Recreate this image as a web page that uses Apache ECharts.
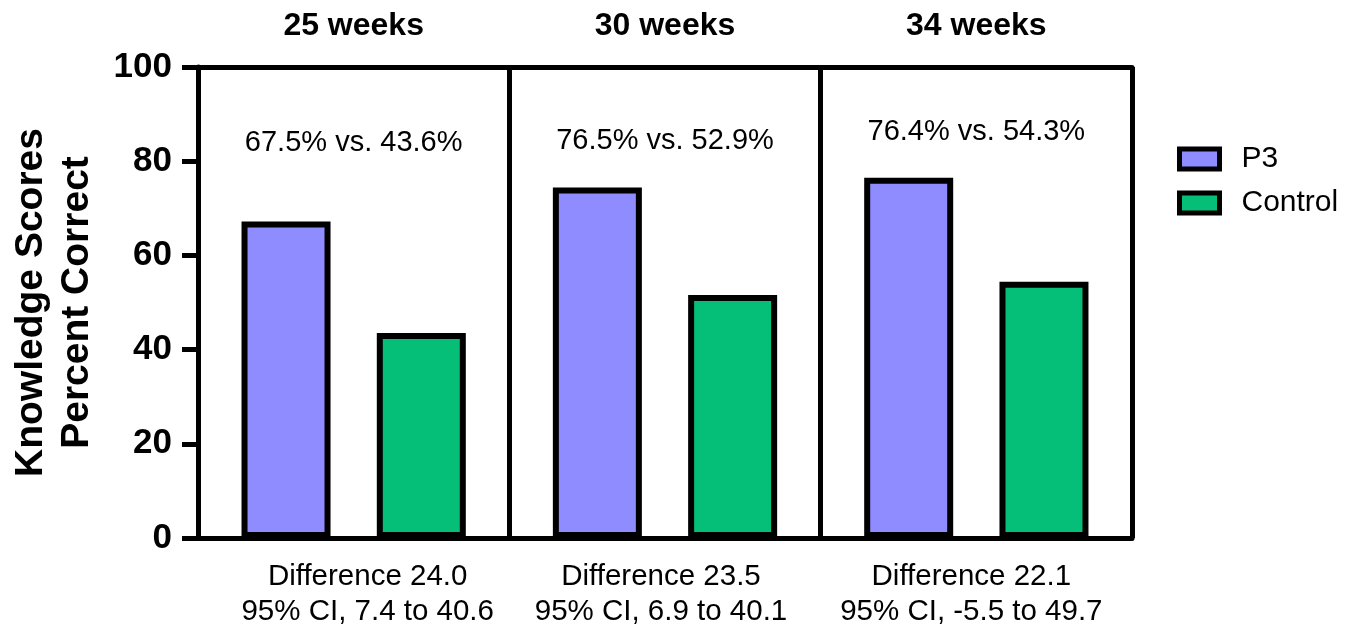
<!DOCTYPE html>
<html>
<head>
<meta charset="utf-8">
<script src="https://cdn.jsdelivr.net/npm/echarts@6/dist/echarts.min.js"></script>
<style>
html,body{margin:0;padding:0;background:#fff;}
#main{width:1348px;height:629px;}
</style>
</head>
<body>
<div id="main"></div>
<script>
const weeks = ['25 weeks', '30 weeks', '34 weeks'];
const p3 = [67.2, 74.4, 76.5];
const control = [43.5, 51.6, 54.4];
const pctText = ['67.5% vs. 43.6%', '76.5% vs. 52.9%', '76.4% vs. 54.3%'];
const diffText = ['Difference 24.0', 'Difference 23.5', 'Difference 22.1'];
const ciText = ['95% CI, 7.4 to 40.6', '95% CI, 6.9 to 40.1', '95% CI, -5.5 to 49.7'];
const yMin = 0, yMax = 100, yStep = 20;

const FONT = '"Liberation Sans", Arial, sans-serif';
const annoLevel = [83.8, 84.2, 86.1];
const bottomShift = [[0, 0, 0, 28], [0, 8, 0, 0], [0, 10, 0, 0]];

const chart = echarts.init(document.getElementById('main'));
chart.setOption({
  animation: false,
  backgroundColor: '#fff',
  textStyle: { fontFamily: FONT, color: '#000' },
  grid: { left: 198, right: 216, top: 67, bottom: 88, containLabel: false },
  legend: {
    orient: 'vertical',
    left: 1177,
    top: 144,
    padding: 0,
    itemWidth: 40,
    itemHeight: 20,
    itemGap: 14,
    icon: 'rect',
    itemStyle: { borderColor: '#000', borderWidth: 5 },
    textStyle: { fontFamily: FONT, fontSize: 30, color: '#000', padding: [0, 0, 0, 17] },
    data: ['P3', 'Control']
  },
  xAxis: [
    {
      type: 'category',
      position: 'bottom',
      data: weeks.map((w, i) => ({ value: w, textStyle: { padding: bottomShift[i] } })),
      axisLine: { show: true, lineStyle: { color: '#000', width: 5 } },
      axisTick: { show: false },
      splitLine: { show: true, interval: 0, lineStyle: { color: '#000', width: 5 } },
      axisLabel: {
        interval: 0,
        margin: 21,
        fontFamily: FONT,
        fontSize: 29.5,
        lineHeight: 35,
        color: '#000',
        formatter: (v, i) => diffText[i] + '\n' + ciText[i]
      }
    },
    {
      type: 'category',
      position: 'top',
      data: weeks,
      axisLine: { show: true, lineStyle: { color: '#000', width: 5 } },
      axisTick: { show: false },
      splitLine: { show: false },
      axisLabel: {
        interval: 0,
        margin: 25,
        fontFamily: FONT,
        fontSize: 32,
        fontWeight: 'bold',
        color: '#000'
      }
    }
  ],
  yAxis: {
    type: 'value',
    min: yMin,
    max: yMax,
    interval: yStep,
    name: 'Knowledge Scores\nPercent Correct',
    nameLocation: 'middle',
    nameGap: 98,
    nameTextStyle: { fontFamily: FONT, fontSize: 39, fontWeight: 'bold', color: '#000', lineHeight: 46 },
    axisLine: { show: true, lineStyle: { color: '#000', width: 5 } },
    axisTick: { show: true, length: 16, lineStyle: { color: '#000', width: 5 } },
    splitLine: { show: false },
    axisLabel: { margin: 26, fontFamily: FONT, fontSize: 35, fontWeight: 'bold', color: '#000' }
  },
  series: [
    {
      name: 'P3',
      type: 'bar',
      data: p3,
      barWidth: 89,
      barGap: '52%',
      itemStyle: { color: '#8F8CFF', borderColor: '#000', borderWidth: 6 }
    },
    {
      name: 'Control',
      type: 'bar',
      data: control,
      barWidth: 89,
      itemStyle: { color: '#05BF78', borderColor: '#000', borderWidth: 6 }
    },
    {
      name: 'annotations',
      type: 'scatter',
      symbolSize: 0,
      silent: true,
      itemStyle: { opacity: 1 },
      data: weeks.map((w, i) => [w, annoLevel[i]]),
      label: {
        show: true,
        position: 'inside',
        fontFamily: FONT,
        fontSize: 29,
        color: '#000',
        opacity: 1,
        formatter: (p) => pctText[p.dataIndex]
      }
    }
  ]
});
</script>
</body>
</html>
